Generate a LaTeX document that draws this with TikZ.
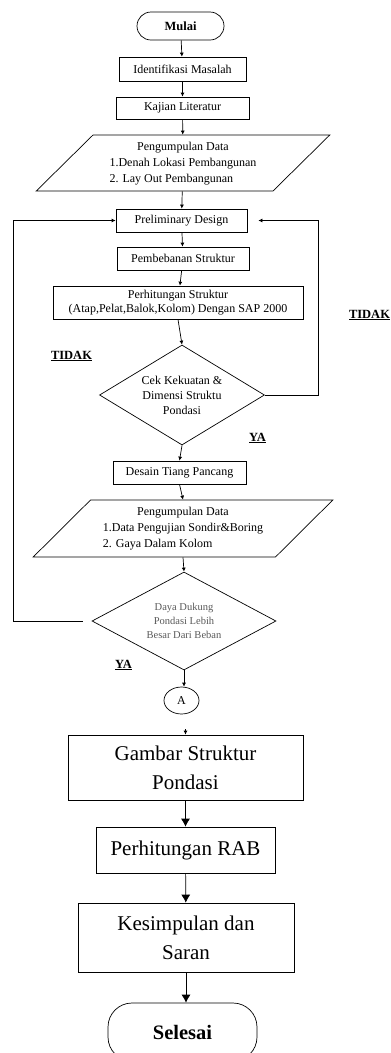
\documentclass[tikz,border=0pt]{standalone}
\usepackage{fontspec}
\setmainfont{Liberation Serif}
\usetikzlibrary{shapes.geometric,arrows.meta}

\begin{document}
\begin{tikzpicture}[x=1pt,y=-1pt,line width=0.7pt]
        % Styles for the boxes, decisions and arrows
        \tikzset{
            box/.style={
                draw,
                rectangle,
                inner sep=0pt,
                align=center,
                font=\fontsize{12}{16}\selectfont
            },
            bigbox/.style={
                box,
                font=\fontsize{21}{29}\selectfont
            },
            terminal/.style={
                draw,
                rectangle,
                rounded corners=14pt,
                inner sep=0pt,
                font=\fontsize{12.5}{15}\selectfont\bfseries
            },
            data/.style={
                draw,
                trapezium,
                trapezium stretches=true,
                inner sep=0pt,
                font=\fontsize{12}{16}\selectfont
            },
            decision/.style={
                draw,
                diamond,
                aspect=1.65,
                inner sep=0pt,
                align=center,
                font=\fontsize{12}{15}\selectfont
            },
            answer/.style={
                font=\fontsize{12.5}{15}\selectfont\bfseries
            },
            arrow/.style={
                ->,
                >={Latex[length=4pt,width=4pt]}
            },
            bigarrow/.style={
                ->,
                >={Latex[length=8pt,width=9pt]}
            }
        }
        \useasboundingbox (0,0) rectangle (391,1053);
        % Upper part: data and structure
        \node[terminal, minimum width=87pt, minimum height=28pt] (mulai) at (180.5,26) {Mulai};
        \node[box, minimum width=127pt, minimum height=24pt] (identifikasi) at (182.5,69) {Identifikasi Masalah};
        \node[box, minimum width=133pt, minimum height=22pt] (kajian) at (182.5,108) {Kajian Literatur};
        \node[data, trapezium left angle=46, trapezium right angle=134,
              minimum width=294pt, minimum height=56pt] (data1) at (183,163)
            {\begin{tabular}{@{}l@{}}
                \multicolumn{1}{@{}c@{}}{Pengumpulan Data}\\
                1.Denah Lokasi Pembangunan\\
                2. Lay Out Pembangunan
            \end{tabular}};
        \node[box, minimum width=131pt, minimum height=23pt] (preliminary) at (181.5,220.5) {Preliminary Design};
        \node[box, minimum width=132pt, minimum height=23pt] (pembebanan) at (183,258.5) {Pembebanan Struktur};
        \node[box, minimum width=250pt, minimum height=33pt, font=\fontsize{12}{14}\selectfont] (perhitungan) at (178,302.5)
            {Perhitungan Struktur\\(Atap,Pelat,Balok,Kolom) Dengan SAP 2000};
        \node[decision, minimum width=165pt, minimum height=100pt] (cek) at (182,395)
            {Cek Kekuatan \&\\Dimensi Struktu\\Pondasi};
        % Lower part: foundation
        \node[box, minimum width=133pt, minimum height=23pt] (desain) at (179.5,472.5) {Desain Tiang Pancang};
        \node[data, trapezium left angle=44, trapezium right angle=136,
              minimum width=300pt, minimum height=57pt] (data2) at (183,528.5)
            {\begin{tabular}{@{}l@{}}
                \multicolumn{1}{@{}c@{}}{Pengumpulan Data}\\
                1.Data Pengujian Sondir\&Boring\\
                2. Gaya Dalam Kolom
            \end{tabular}};
        \node[decision, minimum width=184pt, minimum height=98pt, text=black!65,
              font=\fontsize{10.5}{14}\selectfont] (dukung) at (184,621)
            {Daya Dukung\\Pondasi Lebih\\Besar Dari Beban};
        \node[draw, ellipse, minimum width=35pt, minimum height=27pt, inner sep=0pt,
              font=\fontsize{12}{14}\selectfont] (konektorA) at (181.5,700.5) {A};
        \node[bigbox, minimum width=235pt, minimum height=65pt] (gambar) at (185.5,767.5) {Gambar Struktur\\Pondasi};
        \node[bigbox, minimum width=179pt, minimum height=46pt] (rab) at (185.5,850) {Perhitungan RAB};
        \node[bigbox, minimum width=216pt, minimum height=69pt] (kesimpulan) at (186,937.5) {Kesimpulan dan\\Saran};
        \node[terminal, rounded corners=24pt, minimum width=149pt, minimum height=58pt,
              font=\fontsize{20.5}{24}\selectfont\bfseries] (selesai) at (182.5,1032) {Selesai};
        % Answers
        \node[answer] (tidakkiri) at (71.5,356) {\underline{TIDAK}};
        \node[answer] (tidakkanan) at (369.5,315) {\underline{TIDAK}};
        \node[answer] (yaatas) at (257.5,438) {\underline{YA}};
        \node[answer] (yabawah) at (123.5,665) {\underline{YA}};
        % Arrows
        \draw[arrow] (mulai) -- (identifikasi);
        \draw[arrow] (identifikasi) -- (kajian);
        \draw[arrow] (kajian) -- (data1);
        \draw[arrow] (data1) -- (preliminary);
        \draw[arrow] (preliminary) -- (pembebanan);
        \draw[arrow] (pembebanan) -- (perhitungan);
        \draw[arrow] (perhitungan.south) -- (cek.north);
        \draw[arrow] (cek.south) -- (desain.north);
        \draw[arrow] (desain.south) -- (data2.north);
        \draw[arrow] (data2.south) -- (dukung.north);
        \draw[arrow] (dukung.south) -- (dukung.south |- konektorA.north);
        \draw[arrow, shorten >=11pt] (cek.east) -- (318,395) |- (preliminary.east);
        \draw[arrow, shorten <=9pt] (dukung.west) -- (13,621) |- (preliminary.west);
        \coordinate (masukA) at (185.5,729);
        \draw[arrow] (masukA) -- (gambar.north);
        \draw[bigarrow] (gambar) -- (rab);
        \draw[bigarrow] (rab) -- (kesimpulan);
        \draw[bigarrow] (kesimpulan.south) -- (kesimpulan.south |- selesai.north);
    \end{tikzpicture}
\end{document}
